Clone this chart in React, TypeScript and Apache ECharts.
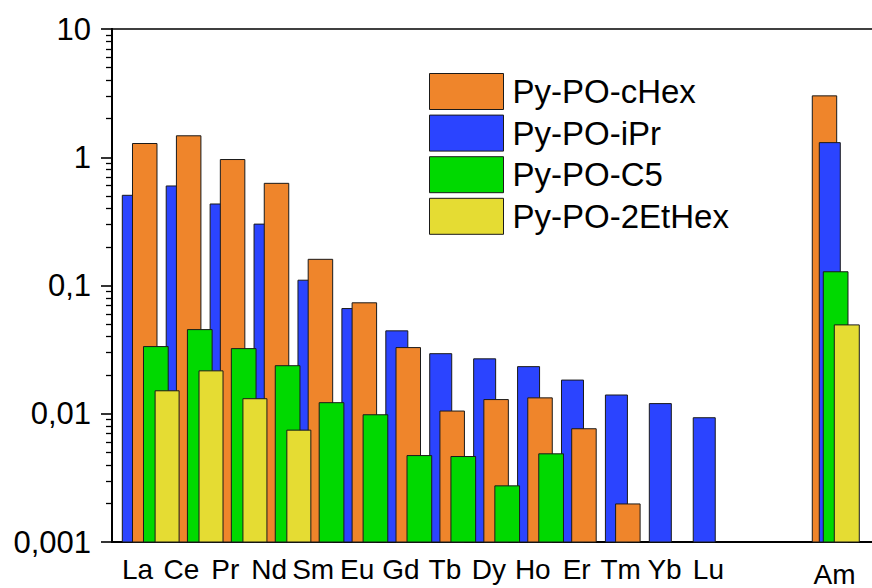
import React, { useEffect, useRef } from "react";
import * as echarts from "echarts";

// ---- data ----
const CATEGORIES = ["La", "Ce", "Pr", "Nd", "Sm", "Eu", "Gd", "Tb", "Dy", "Ho", "Er", "Tm", "Yb", "Lu", "Am"];
const SERIES_NAMES = ["Py-PO-cHex", "Py-PO-iPr", "Py-PO-C5", "Py-PO-2EtHex"];
const CHEX = [1.28, 1.47, 0.96, 0.626, 0.16, 0.0733, 0.0328, 0.0105, 0.0129, 0.0133, 0.00764, 0.00198, null, null, 3.01];
const IPR = [0.505, 0.597, 0.432, 0.301, 0.11, 0.0661, 0.0443, 0.0294, 0.0268, 0.0233, 0.0183, 0.014, 0.012, 0.00931, 1.3];
const C5 = [0.0334, 0.0453, 0.0322, 0.0237, 0.0122, 0.00982, 0.00472, 0.00464, 0.00274, 0.00487, null, null, null, null, 0.128];
const ETHEX = [0.0151, 0.0216, 0.0131, 0.00745, null, null, null, null, null, null, null, null, null, null, 0.0493];
const Y_TICKS = [0.001, 0.01, 0.1, 1, 10];

// ---- layout / style ----
const FONT = "'Liberation Sans', Arial, sans-serif";
const AM_POS = 15.87;
const X_MIN = -0.5806;
const X_MAX = 16.724;
const COLORS = { chex: "#EF852B", ipr: "#2B44FF", c5: "#00D900", ethex: "#E5DC33" };
// pixel offsets (left edge relative to category position) and widths
const LAN_STYLE = {
  chex: { off: -5.0, w: 24.5, z: 3 },
  ipr: { off: -15.2, w: 22, z: 2 },
  c5: { off: 6.0, w: 24.7, z: 4 },
  ethex: { off: 17.6, w: 24, z: 5 },
};
const AM_STYLE = {
  chex: { off: -22.2, w: 24.4, z: 2 },
  ipr: { off: -15.2, w: 21, z: 3 },
  c5: { off: -11.2, w: 24.7, z: 4 },
  ethex: { off: -0.2, w: 25, z: 5 },
};

const positions = CATEGORIES.map((c, i) => (c === "Am" ? AM_POS : i));

function fmtY(v: number) {
  const e = Math.round(Math.log10(v));
  if (e >= 0) return String(Math.pow(10, e));
  return "0," + "0".repeat(-e - 1) + "1";
}

function minorExps() {
  const out: number[] = [];
  for (let e = -3; e < 1; e++) {
    for (let k = 2; k <= 9; k++) out.push(e + Math.log10(k));
  }
  return out;
}

export default function App() {
  const ref = useRef<HTMLDivElement>(null);
  useEffect(() => {
    if (!ref.current) return;
    const chart = echarts.init(ref.current, undefined, { renderer: "svg" });
    const sets: [string, string, (number | null)[]][] = [
      ["chex", SERIES_NAMES[0], CHEX],
      ["ipr", SERIES_NAMES[1], IPR],
      ["c5", SERIES_NAMES[2], C5],
      ["ethex", SERIES_NAMES[3], ETHEX],
    ];
    const series: any[] = [];
    const makeSeries = (key: string, name: string, vals: (number | null)[], isAm: boolean) => {
      const st = (isAm ? AM_STYLE : LAN_STYLE)[key as keyof typeof LAN_STYLE];
      const color = (COLORS as any)[key];
      const data: number[][] = [];
      vals.forEach((v, i) => {
        const am = CATEGORIES[i] === "Am";
        if (v != null && am === isAm) data.push([positions[i], v]);
      });
      return {
        type: "custom",
        name,
        z: st.z,
        itemStyle: { color },
        data,
        renderItem: (params: any, api: any) => {
          const x = api.value(0);
          const v = api.value(1);
          const top = api.coord([x, v]);
          const bot = api.coord([x, 0.001]);
          return {
            type: "rect",
            shape: { x: top[0] + st.off, y: top[1], width: st.w, height: bot[1] - top[1] },
            style: { fill: color, stroke: "#1a1a1a", lineWidth: 1 },
          };
        },
      };
    };
    sets.forEach(([k, n, v]) => series.push(makeSeries(k, n, v, false)));
    sets.forEach(([k, n, v]) => series.push(makeSeries(k, n, v, true)));

    chart.setOption({
      animation: false,
      backgroundColor: "#ffffff",
      grid: { left: 112, right: 0, top: 29, bottom: 46, containLabel: false, outerBoundsMode: "none" },
      legend: {
        data: SERIES_NAMES,
        orient: "vertical",
        left: 429,
        top: 73,
        padding: 0,
        itemWidth: 74,
        itemHeight: 36,
        itemGap: 4.6,
        icon: "rect",
        itemStyle: { borderColor: "#1a1a1a", borderWidth: 1 },
        textStyle: { fontSize: 33, fontFamily: FONT, color: "#000", padding: [0, 0, 0, 4] },
      },
      xAxis: [
        {
          type: "value",
          min: X_MIN,
          max: X_MAX,
          position: "bottom",
          splitLine: { show: false },
          axisTick: { show: false },
          axisLine: { show: true, onZero: false, lineStyle: { color: "#000", width: 2 } },
          axisLabel: {
            customValues: positions,
            margin: 13,
            fontSize: 28,
            fontFamily: FONT,
            color: "#000",
            formatter: (v: number) => {
              const i = positions.findIndex((p) => Math.abs(p - v) < 1e-6);
              if (i < 0) return "";
              const c = CATEGORIES[i];
              return c === "Am" ? "{am|" + c + "}" : c;
            },
            rich: { am: { fontSize: 28, fontFamily: FONT, color: "#000", padding: [5, 0, 0, 0] } },
          },
        },
        {
          type: "value",
          min: X_MIN,
          max: X_MAX,
          position: "top",
          splitLine: { show: false },
          axisTick: { show: false },
          axisLabel: { show: false },
          axisLine: { show: true, onZero: false, lineStyle: { color: "#000", width: 1.6 } },
        },
      ],
      yAxis: [
        {
          type: "log",
          logBase: 10,
          min: Y_TICKS[0],
          max: Y_TICKS[Y_TICKS.length - 1],
          position: "left",
          splitLine: { show: false },
          axisLine: { show: true, onZero: false, lineStyle: { color: "#000", width: 2 } },
          axisTick: { show: true, length: 11, lineStyle: { color: "#000", width: 1.6 } },
          axisLabel: { margin: 21, fontSize: 31, fontFamily: FONT, color: "#000", formatter: fmtY },
        },
        {
          type: "value",
          min: -3,
          max: 1,
          position: "left",
          offset: 0,
          splitLine: { show: false },
          axisLine: { show: true, onZero: false, lineStyle: { color: "#000", width: 2 } },
          axisLabel: { show: false },
          axisTick: { show: true, length: 6, customValues: minorExps(), lineStyle: { color: "#000", width: 1.3 } },
        },
      ],
      series,
    });
    return () => chart.dispose();
  }, []);
  return <div ref={ref} style={{ width: 872, height: 588, position: "absolute", left: 0, top: 0 }} />;
}
